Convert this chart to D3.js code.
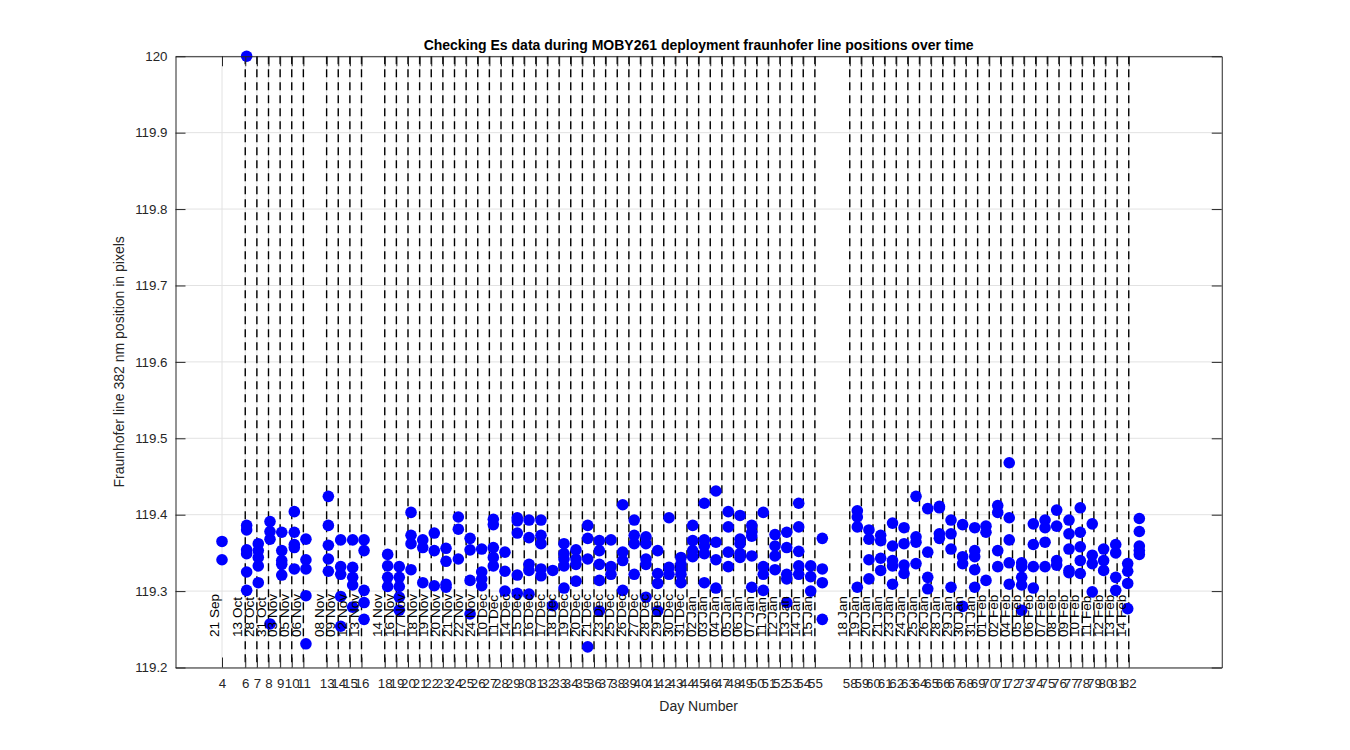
<!DOCTYPE html>
<html><head><meta charset="utf-8">
<script src="https://cdn.jsdelivr.net/npm/d3@7"></script>
<style>body{margin:0;background:#fff} text{font-family:"Liberation Sans",Arial,Helvetica,sans-serif}</style>
</head><body><svg id="c" width="1350" height="750"></svg>
<script>
// ---- data ----
const xTicks = [4,6,7,8,9,10,11,13,14,15,16,18,19,20,21,22,23,24,25,26,27,28,29,30,31,32,33,34,35,36,37,38,39,40,41,42,43,44,45,46,47,48,49,50,51,52,53,54,55,58,59,60,61,62,63,64,65,66,67,68,69,70,71,72,73,74,75,76,77,78,79,80,81,82];
const dateLabels = ["21 Sep","13 Oct","28 Oct","31 Oct","03 Nov","05 Nov","06 Nov","08 Nov","09 Nov","12 Nov","13 Nov","14 Nov","16 Nov","17 Nov","18 Nov","19 Nov","20 Nov","21 Nov","22 Nov","24 Nov","10 Dec","11 Dec","14 Dec","15 Dec","16 Dec","17 Dec","18 Dec","19 Dec","20 Dec","21 Dec","23 Dec","25 Dec","26 Dec","27 Dec","28 Dec","29 Dec","30 Dec","31 Dec","02 Jan","03 Jan","04 Jan","05 Jan","06 Jan","07 Jan","11 Jan","12 Jan","13 Jan","14 Jan","15 Jan","18 Jan","19 Jan","20 Jan","21 Jan","23 Jan","24 Jan","25 Jan","26 Jan","28 Jan","29 Jan","30 Jan","31 Jan","01 Feb","02 Feb","04 Feb","05 Feb","06 Feb","07 Feb","08 Feb","09 Feb","10 Feb","11 Feb","12 Feb","13 Feb","14 Feb"];
const dashedDays = xTicks.filter(d => d !== 4);
const yTicks = [119.2,119.3,119.4,119.5,119.6,119.7,119.8,119.9,120];
// x position (day number) of each column of measurements
const pointDays = [4.00,6.12,7.12,8.13,9.14,10.22,11.22,13.15,14.21,15.24,16.22,18.25,19.25,20.26,21.27,22.26,23.27,24.33,25.34,26.34,27.34,28.34,29.40,30.41,31.44,32.45,33.42,34.45,35.46,36.46,37.46,38.47,39.46,40.47,41.48,42.45,43.48,44.49,45.49,46.49,47.55,48.56,49.57,50.56,51.57,52.58,53.61,54.64,55.64,58.65,59.65,60.66,61.68,62.67,63.70,64.71,65.71,66.71,67.71,68.75,69.72,70.73,71.72,72.79,73.79,74.80,75.80,76.86,77.83,78.86,79.84,80.88,81.91,82.91];
// line positions measured for each column
const pointValues = [
 [119.365,119.341],
 [120.0,119.386,119.380,119.354,119.349,119.325,119.301],
 [119.362,119.353,119.344,119.333,119.311],
 [119.391,119.378,119.368,119.257],
 [119.377,119.353,119.340,119.335,119.321],
 [119.404,119.377,119.361,119.357,119.329],
 [119.368,119.341,119.329,119.294,119.231],
 [119.424,119.386,119.360,119.342,119.326],
 [119.367,119.332,119.322,119.293,119.254],
 [119.367,119.331,119.318,119.308,119.279],
 [119.367,119.353,119.301,119.285,119.263],
 [119.348,119.333,119.318,119.306],
 [119.332,119.318,119.306,119.292,119.275],
 [119.403,119.373,119.362,119.328],
 [119.367,119.357,119.311],
 [119.376,119.353,119.307],
 [119.356,119.339,119.309,119.305],
 [119.397,119.381,119.342],
 [119.369,119.354,119.314,119.270],
 [119.355,119.325,119.316,119.307],
 [119.394,119.387,119.357,119.344,119.333],
 [119.351,119.326,119.300],
 [119.396,119.392,119.376,119.321,119.297],
 [119.393,119.370,119.335,119.327,119.296],
 [119.393,119.373,119.362,119.329,119.320],
 [119.327,119.281],
 [119.362,119.349,119.342,119.333,119.304],
 [119.354,119.342,119.335,119.313],
 [119.386,119.369,119.342,119.227],
 [119.366,119.353,119.335,119.314,119.274],
 [119.367,119.332,119.322],
 [119.413,119.351,119.340,119.301],
 [119.393,119.373,119.362,119.322],
 [119.371,119.362,119.342,119.335,119.292],
 [119.353,119.323,119.310,119.274],
 [119.396,119.331,119.322],
 [119.344,119.335,119.329,119.322,119.311],
 [119.386,119.366,119.353,119.345],
 [119.415,119.367,119.359,119.349,119.311],
 [119.431,119.364,119.341,119.304],
 [119.404,119.384,119.351,119.332],
 [119.399,119.368,119.362,119.349,119.344],
 [119.386,119.377,119.372,119.346,119.305],
 [119.403,119.332,119.322,119.301],
 [119.374,119.359,119.346,119.328],
 [119.377,119.357,119.322,119.316,119.285],
 [119.415,119.384,119.352,119.333,119.322],
 [119.333,119.319,119.300],
 [119.369,119.329,119.311,119.263],
 [119.405,119.397,119.384,119.305],
 [119.380,119.368,119.341,119.316],
 [119.373,119.366,119.343,119.327],
 [119.389,119.359,119.340,119.333,119.309],
 [119.383,119.362,119.334,119.323],
 [119.424,119.371,119.364,119.336],
 [119.408,119.351,119.318,119.303],
 [119.411,119.409,119.375,119.369],
 [119.393,119.375,119.355,119.305],
 [119.387,119.345,119.336,119.280],
 [119.383,119.353,119.345,119.328,119.305],
 [119.385,119.377,119.314],
 [119.412,119.403,119.353,119.332],
 [119.468,119.396,119.367,119.337,119.309],
 [119.337,119.332,119.318,119.308,119.275],
 [119.388,119.361,119.332,119.304],
 [119.393,119.383,119.364,119.332],
 [119.406,119.385,119.340,119.334],
 [119.393,119.375,119.355,119.327,119.324],
 [119.409,119.377,119.358,119.340,119.323],
 [119.388,119.347,119.336,119.299],
 [119.355,119.340,119.327],
 [119.361,119.350,119.318,119.301],
 [119.336,119.326,119.310,119.277],
 [119.395,119.378,119.359,119.353,119.348]
];
const labelLevel = 119.24;
const titleText = "Checking Es data during MOBY261 deployment fraunhofer line positions over time";
const xLabel = "Day Number";
const yLabel = "Fraunhofer line 382 nm position in pixels";

// ---- drawing ----
const m = {left:175.5, right:1221.75, top:56.25, bottom:667.5};
const svg = d3.select("#c");
const x = d3.scaleLinear().domain([0,90]).range([m.left,m.right]);
const y = d3.scaleLinear().domain([119.2,120]).range([m.bottom,m.top]);
const axisColor = "#262626";

// grid
const grid = svg.append("g");
grid.selectAll("line.gx").data(xTicks).join("line")
  .attr("x1", d=>x(d)).attr("x2", d=>x(d)).attr("y1", m.top).attr("y2", m.bottom)
  .attr("stroke", "#e2e2e2").attr("stroke-width", 1);
grid.selectAll("line.gy").data(yTicks).join("line")
  .attr("y1", d=>y(d)).attr("y2", d=>y(d)).attr("x1", m.left).attr("x2", m.right)
  .attr("stroke", "#e2e2e2").attr("stroke-width", 1);

// dashed day lines
svg.append("g").selectAll("line").data(dashedDays).join("line")
  .attr("x1", d=>x(d)).attr("x2", d=>x(d)).attr("y1", m.top).attr("y2", m.bottom)
  .attr("stroke", "#000").attr("stroke-width", 1.4).attr("stroke-dasharray", "8,5");

// points
const pts = [];
pointDays.forEach((d,i) => pointValues[i].forEach(v => pts.push([d,v])));
svg.append("g").selectAll("circle").data(pts).join("circle")
  .attr("cx", d=>x(d[0])).attr("cy", d=>y(d[1])).attr("r", 5.8).attr("fill", "#0000ff");

// date labels
svg.append("g").selectAll("text").data(xTicks).join("text")
  .attr("transform", d=>`translate(${x(d)},${y(labelLevel)}) rotate(-90)`)
  .attr("dy", "-0.21em").attr("font-size", 13.6).attr("fill", "#000")
  .text((d,i)=>dateLabels[i]);

// axes
const fmt = d3.format("");
const gB = svg.append("g").attr("transform", `translate(0,${m.bottom})`)
  .call(d3.axisBottom(x).tickValues(xTicks).tickSizeInner(-10).tickSizeOuter(0).tickPadding(11).tickFormat(fmt));
const gT = svg.append("g").attr("transform", `translate(0,${m.top})`)
  .call(d3.axisTop(x).tickValues(xTicks).tickSizeInner(-10).tickSizeOuter(0).tickFormat(""));
const gL = svg.append("g").attr("transform", `translate(${m.left},0)`)
  .call(d3.axisLeft(y).tickValues(yTicks).tickSizeInner(-10).tickSizeOuter(0).tickPadding(8).tickFormat(fmt));
const gR = svg.append("g").attr("transform", `translate(${m.right},0)`)
  .call(d3.axisRight(y).tickValues(yTicks).tickSizeInner(-10).tickSizeOuter(0).tickFormat(""));
[gB,gT,gL,gR].forEach(g => {
  g.select(".domain").attr("stroke", axisColor).attr("stroke-width", 1);
  g.selectAll(".tick line").attr("stroke", axisColor).attr("stroke-width", 1);
  g.selectAll(".tick text").attr("fill", axisColor).attr("font-size", 13.3)
    .attr("font-family", '"Liberation Sans",Arial,sans-serif');
});

// titles
svg.append("text").attr("x", (m.left+m.right)/2).attr("y", 50).attr("text-anchor","middle")
  .attr("font-size", 14).attr("font-weight","bold").attr("fill","#000").text(titleText);
svg.append("text").attr("x", (m.left+m.right)/2).attr("y", 711).attr("text-anchor","middle")
  .attr("font-size", 14).attr("fill", axisColor).text(xLabel);
svg.append("text").attr("transform", `translate(124,${(m.top+m.bottom)/2}) rotate(-90)`)
  .attr("text-anchor","middle").attr("font-size", 14).attr("fill", axisColor).text(yLabel);
</script></body></html>
